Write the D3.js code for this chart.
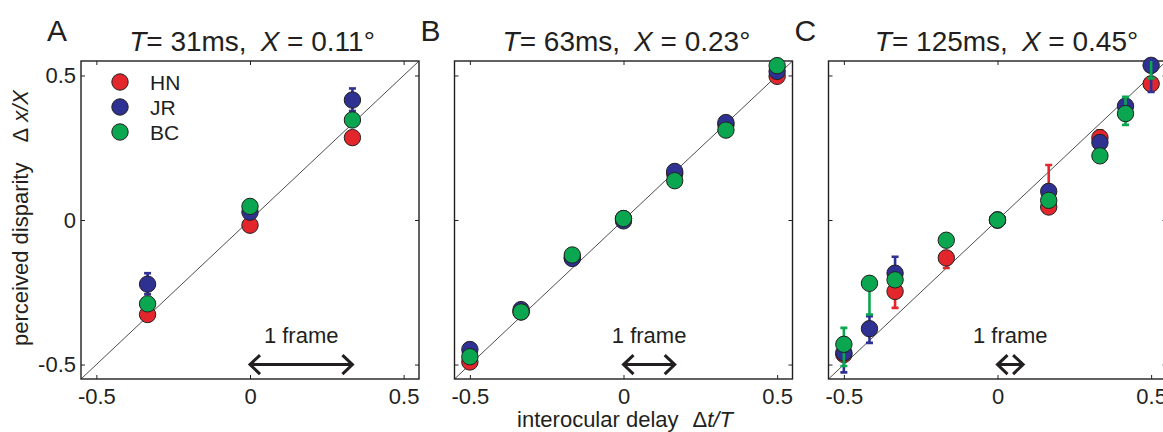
<!DOCTYPE html>
<html><head><meta charset="utf-8">
<script src="https://cdn.jsdelivr.net/npm/d3@7"></script>
<style>
body{margin:0;background:#fff;}
svg{display:block;font-family:"Liberation Sans",Arial,Helvetica,sans-serif;}
</style></head><body>
<svg id="c" width="1163" height="432"></svg>
<script>
// ---------------- data ----------------
const subjects = ["HN", "JR", "BC"];
const subjectColors = ["#e3262c", "#2e3192", "#0aa650"];
const panelLetters = ["A", "B", "C"];
const panelT = ["31ms", "63ms", "125ms"];
const panelXdeg = ["0.11°", "0.23°", "0.45°"];
const frameWidths = [1/3, 1/6, 1/12];
const tickValues = [-0.5, 0, 0.5];
const tickLabels = ["-0.5", "0", "0.5"];

// Panel A
const delaysA = [-1/3, 0, 1/3];
const hnA = [-0.327, -0.018, 0.285];
const hnUpA = [0, 0, 0], hnDnA = [0, 0, 0];
const jrA = [-0.222, 0.027, 0.415];
const jrUpA = [0.038, 0, 0.040], jrDnA = [0.035, 0, 0.038];
const bcA = [-0.290, 0.047, 0.346];
const bcUpA = [0, 0, 0], bcDnA = [0, 0, 0];

// Panel B
const delaysB = [-0.5, -1/3, -1/6, 0, 1/6, 1/3, 0.5];
const hnB = [-0.491, -0.318, -0.130, 0.005, 0.160, 0.330, 0.497];
const jrB = [-0.448, -0.310, -0.133, -0.003, 0.168, 0.337, 0.514];
const bcB = [-0.473, -0.318, -0.121, 0.005, 0.136, 0.311, 0.534];
const zeroB = [0, 0, 0, 0, 0, 0, 0];

// Panel C
const delaysC = [-0.5, -5/12, -1/3, -1/6, 0, 1/6, 1/3, 5/12, 0.5];
const hnC = [-0.465, null, -0.247, -0.131, 0.000, 0.045, 0.285, null, 0.471];
const hnUpC = [0, 0, 0.02, 0.02, 0, 0.145, 0.025, 0, 0];
const hnDnC = [0, 0, 0.057, 0.035, 0, 0, 0.02, 0, 0];
const jrC = [-0.459, -0.376, -0.184, null, 0.000, 0.099, 0.268, 0.394, 0.535];
const jrUpC = [0.03, 0.043, 0.057, 0, 0, 0, 0, 0, 0.02];
const jrDnC = [0.068, 0.049, 0.03, 0, 0, 0, 0, 0, 0.092];
const bcC = [-0.430, -0.219, -0.207, -0.070, 0.000, 0.068, 0.222, 0.368, 0.600];
const bcUpC = [0.057, 0, 0, 0, 0, 0, 0, 0.058, 0.05];
const bcDnC = [0.075, 0.108, 0, 0, 0, 0, 0, 0.039, 0.11];

const panels = [
  {x: delaysA, ys: [hnA, jrA, bcA], up: [hnUpA, jrUpA, bcUpA], dn: [hnDnA, jrDnA, bcDnA]},
  {x: delaysB, ys: [hnB, jrB, bcB], up: [zeroB, zeroB, zeroB], dn: [zeroB, zeroB, zeroB]},
  {x: delaysC, ys: [hnC, jrC, bcC], up: [hnUpC, jrUpC, bcUpC], dn: [hnDnC, jrDnC, bcDnC]}
];

// ---------------- layout ----------------
const svg = d3.select("#c");
const ink = "#231f20";
const boxLeft = [81, 454.5, 828.5];
const boxTop = 61, boxW = 338, boxH = 318;
const titleShift = [2, 3, 9];
const domain = [-0.55, 0.55];
const R = 8.2;

panels.forEach((p, i) => {
  const x = d3.scaleLinear().domain(domain).range([boxLeft[i], boxLeft[i] + boxW]);
  const y = d3.scaleLinear().domain(domain).range([boxTop + boxH, boxTop]);
  const g = svg.append("g");
  const clipId = "clip" + i;
  svg.append("clipPath").attr("id", clipId).append("rect")
    .attr("x", boxLeft[i]).attr("y", boxTop).attr("width", boxW).attr("height", boxH);

  // axes (ticks inward, box style)
  const styleAxis = (sel) => {
    sel.select(".domain").remove();
    sel.selectAll(".tick line").attr("stroke", ink).attr("stroke-width", 1);
    sel.selectAll(".tick text").attr("fill", ink).attr("font-size", 22)
      .attr("font-family", '"Liberation Sans",Arial,Helvetica,sans-serif');
  };
  g.append("g").attr("transform", `translate(0,${boxTop + boxH})`)
    .call(d3.axisBottom(x).tickValues(tickValues).tickSize(-4).tickPadding(9)
      .tickFormat((d, k) => tickLabels[k])).call(styleAxis);
  g.append("g").attr("transform", `translate(0,${boxTop})`)
    .call(d3.axisTop(x).tickValues(tickValues).tickSize(-4).tickFormat("")).call(styleAxis);
  g.append("g").attr("transform", `translate(${boxLeft[i]},0)`)
    .call(d3.axisLeft(y).tickValues(tickValues).tickSize(-4).tickPadding(5)
      .tickFormat((d, k) => i === 0 ? tickLabels[k] : "")).call(styleAxis);
  g.append("g").attr("transform", `translate(${boxLeft[i] + boxW},0)`)
    .call(d3.axisRight(y).tickValues(tickValues).tickSize(-4).tickFormat("")).call(styleAxis);

  // box
  g.append("rect").attr("x", boxLeft[i]).attr("y", boxTop).attr("width", boxW).attr("height", boxH)
    .attr("fill", "none").attr("stroke", ink).attr("stroke-width", 1.4);

  // diagonal
  g.append("line").attr("clip-path", `url(#${clipId})`)
    .attr("x1", x(domain[0])).attr("y1", y(domain[0]))
    .attr("x2", x(domain[1])).attr("y2", y(domain[1]))
    .attr("stroke", ink).attr("stroke-width", 0.8);

  // data per subject: error bars then markers
  subjects.forEach((s, si) => {
    const col = subjectColors[si];
    const pts = p.x.map((xv, k) => ({x: xv, y: p.ys[si][k], up: p.up[si][k], dn: p.dn[si][k]}))
      .filter(d => d.y !== null);
    const eb = g.append("g").attr("clip-path", `url(#${clipId})`);
    pts.filter(d => d.up > 0 || d.dn > 0).forEach(d => {
      const cx = x(d.x), y1 = y(d.y + d.up), y0 = y(d.y - d.dn);
      eb.append("line").attr("x1", cx).attr("x2", cx).attr("y1", y1).attr("y2", y0)
        .attr("stroke", col).attr("stroke-width", 2.6);
      if (d.up > 0) eb.append("line").attr("x1", cx - 3.5).attr("x2", cx + 3.5).attr("y1", y1).attr("y2", y1)
        .attr("stroke", col).attr("stroke-width", 2.6);
      if (d.dn > 0) eb.append("line").attr("x1", cx - 3.5).attr("x2", cx + 3.5).attr("y1", y0).attr("y2", y0)
        .attr("stroke", col).attr("stroke-width", 2.6);
    });
    g.append("g").selectAll("circle")
      .data(pts.filter(d => d.y >= domain[0] && d.y <= domain[1]))
      .join("circle")
      .attr("cx", d => x(d.x)).attr("cy", d => y(d.y)).attr("r", R)
      .attr("fill", col).attr("stroke", ink).attr("stroke-width", 1);
  });

  // 1 frame arrow
  const ax0 = x(0), ax1 = x(frameWidths[i]), ay = y(-0.5);
  const hl = 10, hh = 9.5;
  g.append("path")
    .attr("d", `M${ax0},${ay}H${ax1}M${ax0 + hl},${ay - hh}L${ax0},${ay}L${ax0 + hl},${ay + hh}` +
      `M${ax1 - hl},${ay - hh}L${ax1},${ay}L${ax1 - hl},${ay + hh}`)
    .attr("fill", "none").attr("stroke", ink).attr("stroke-width", 3)
    .attr("stroke-linejoin", "miter").attr("stroke-linecap", "butt");
  g.append("text").attr("x", (ax0 + ax1) / 2).attr("y", 343).attr("text-anchor", "middle")
    .attr("font-size", 22).attr("fill", ink).text("1 frame");

  // title
  const t = g.append("text").attr("x", boxLeft[i] + boxW / 2 + titleShift[i]).attr("y", 51)
    .attr("text-anchor", "middle").attr("font-size", 28).attr("fill", ink);
  t.append("tspan").attr("font-style", "italic").text("T");
  t.append("tspan").text("= " + panelT[i] + ",");
  t.append("tspan").attr("dx", 14).attr("font-style", "italic").text("X");
  t.append("tspan").text(" = " + panelXdeg[i]);

  // panel letter
  g.append("text").attr("x", boxLeft[i] - 34).attr("y", 41).attr("font-size", 30)
    .attr("fill", ink).text(panelLetters[i]);
});

// legend (panel A)
subjects.forEach((s, si) => {
  const ly = 82 + si * 25;
  svg.append("circle").attr("cx", 120).attr("cy", ly).attr("r", R)
    .attr("fill", subjectColors[si]).attr("stroke", ink).attr("stroke-width", 1);
  svg.append("text").attr("x", 150).attr("y", ly + 8).attr("font-size", 21).attr("fill", ink).text(s);
});

// y label
const yl = svg.append("text").attr("transform", "translate(28,218) rotate(-90)")
  .attr("text-anchor", "middle").attr("font-size", 22).attr("fill", ink);
yl.append("tspan").text("perceived disparity");
yl.append("tspan").attr("dx", 20).text("Δ");
yl.append("tspan").attr("dx", 6).attr("font-style", "italic").text("x/X");

// x label
const xl = svg.append("text").attr("x", 625).attr("y", 427)
  .attr("text-anchor", "middle").attr("font-size", 22).attr("fill", ink);
xl.append("tspan").text("interocular delay");
xl.append("tspan").attr("dx", 14).text("Δ");
xl.append("tspan").attr("font-style", "italic").text("t/T");
</script>
</body></html>
